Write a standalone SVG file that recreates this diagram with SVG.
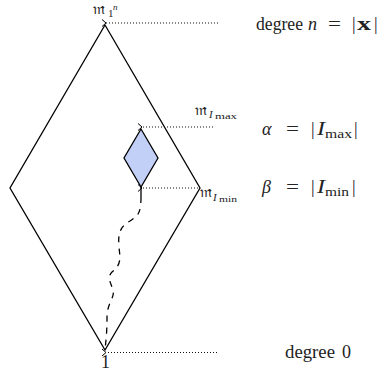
<svg xmlns="http://www.w3.org/2000/svg" width="380" height="372" viewBox="0 0 380 372">
<style>
.t{font-family:"Liberation Serif","DejaVu Serif",serif;font-size:18px;fill:#222}
.f{font-family:"DejaVu Serif","Liberation Serif",serif;font-size:16px;fill:#222}
.s{font-family:"Liberation Serif",serif;font-size:11px;fill:#222}
.sb{font-family:"Liberation Serif",serif;font-size:13px;fill:#222}
.ss{font-family:"Liberation Serif",serif;font-size:9px;fill:#222}
.it{font-style:italic}
.edge{fill:none;stroke:#000;stroke-width:1.3}
.dot{fill:none;stroke:#111;stroke-width:1.1;stroke-dasharray:1 2;marker-end:url(#ah)}
</style>
<defs>
<marker id="ah" markerWidth="8" markerHeight="10" refX="1" refY="5" orient="auto" markerUnits="userSpaceOnUse">
<path d="M5,1.5 L1,5 L5,8.5" fill="none" stroke="#000" stroke-width="1"/>
</marker>
</defs>
<g id="lattice">
<path class="edge" d="M105,25 L200,188 L105,350 L10,188 Z"/>
</g>
<g id="interval">
<path d="M141,129 L158,158 L141,187 L124,158 Z" fill="#c2cff7" stroke="#000" stroke-width="1.3"/>
</g>
<g id="connectors">
<line x1="141" y1="187" x2="141" y2="197" stroke="#000" stroke-width="1.3"/>
<path class="edge" stroke-dasharray="6 6" d="M141,197 C141,215 137,216 130,221 C119,227 118,235 119,247 C120,258 122,264 112,272 C106,278 112,284 113,291 C115,298 107,302 107,318 C107,332 106,340 105,350"/>
<line class="dot" x1="218" y1="23" x2="106" y2="23"/>
<line class="dot" x1="213" y1="127" x2="142" y2="127"/>
<line class="dot" x1="198" y1="188" x2="142" y2="188"/>
<line class="dot" x1="217" y1="352.5" x2="106" y2="352.5"/>
</g>
<g id="labels">
<text class="f" x="93" y="14">𝔪</text>
<text class="s" x="108" y="17">1</text>
<text class="ss it" x="113" y="10">n</text>
<text class="f" x="195" y="115">𝔪</text>
<text class="s it" x="209" y="118">I</text>
<text class="ss" x="215" y="119" textLength="22" lengthAdjust="spacingAndGlyphs">max</text>
<text class="f" x="200" y="197">𝔪</text>
<text class="s it" x="213" y="201">I</text>
<text class="ss" x="219" y="202" textLength="18" lengthAdjust="spacingAndGlyphs">min</text>
<text class="t" x="101" y="368">1</text>
<text class="t" x="256" y="30" textLength="47" lengthAdjust="spacingAndGlyphs">degree</text>
<text class="t it" x="308" y="30">n</text>
<text class="t" x="328" y="30" textLength="13" lengthAdjust="spacingAndGlyphs">=</text>
<text class="t" x="352" y="30">|</text>
<text class="t" x="357" y="30" font-weight="bold" textLength="14" lengthAdjust="spacingAndGlyphs">x</text>
<text class="t" x="374" y="30">|</text>
<text class="t it" x="262" y="135">α</text>
<text class="t" x="286" y="135" textLength="13" lengthAdjust="spacingAndGlyphs">=</text>
<text class="t" x="311" y="135">|</text>
<text class="t it" x="317" y="135" textLength="8" lengthAdjust="spacingAndGlyphs">I</text>
<text class="sb" x="325" y="138" textLength="27" lengthAdjust="spacingAndGlyphs">max</text>
<text class="t" x="354" y="135">|</text>
<text class="t it" x="262" y="193">β</text>
<text class="t" x="286" y="193" textLength="13" lengthAdjust="spacingAndGlyphs">=</text>
<text class="t" x="311" y="193">|</text>
<text class="t it" x="317" y="193" textLength="8" lengthAdjust="spacingAndGlyphs">I</text>
<text class="sb" x="325" y="196" textLength="24" lengthAdjust="spacingAndGlyphs">min</text>
<text class="t" x="352" y="193">|</text>
<text class="t" x="285" y="358" textLength="50" lengthAdjust="spacingAndGlyphs">degree</text>
<text class="t" x="342" y="358">0</text>
</g>
</svg>
